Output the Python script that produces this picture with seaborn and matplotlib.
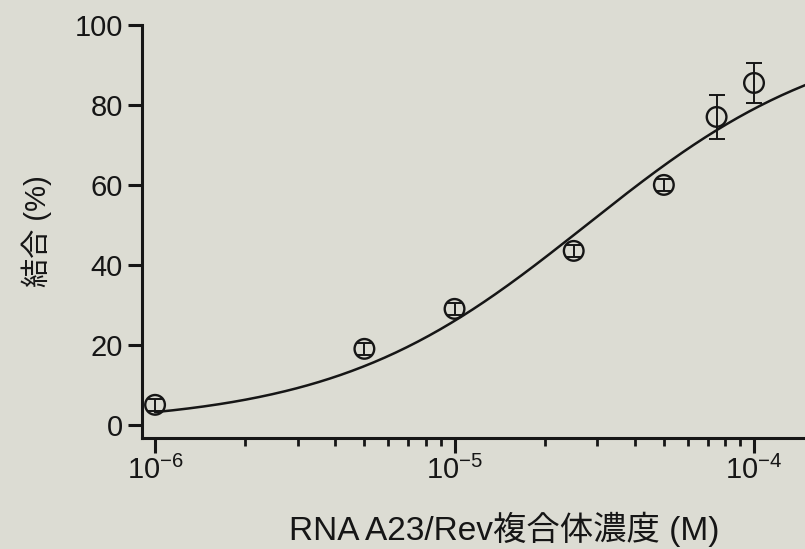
import numpy as np
import pandas as pd
import matplotlib
matplotlib.use("Agg")
import matplotlib.pyplot as plt
import seaborn as sns
from matplotlib.ticker import LogLocator, FixedLocator

# Measured binding data
concentration = [1e-6, 5e-6, 1e-5, 2.5e-5, 5e-5, 7.5e-5, 1e-4]   # M
binding = [5.0, 19.0, 29.0, 43.5, 60.0, 77.0, 85.5]               # %
binding_err = [1.5, 1.5, 1.5, 1.5, 1.5, 5.4, 5.0]

# Fitted binding isotherm parameters (Hill equation)
fit_bmax = 100.0
fit_kd = 2.76e-5
fit_n = 1.03

y_ticks = [0, 20, 40, 60, 80, 100]
x_label = "RNA A23/Rev複合体濃度 (M)"
y_label = "結合 (%)"

paper = "#dcdcd3"
ink = "#161616"

sns.set_theme(style="ticks")
plt.rcParams["font.family"] = ["Liberation Sans", "Noto Sans CJK JP", "DejaVu Sans"]
plt.rcParams["mathtext.fontset"] = "custom"
plt.rcParams["mathtext.rm"] = "Liberation Sans"
plt.rcParams["mathtext.it"] = "Liberation Sans:italic"
plt.rcParams["mathtext.bf"] = "Liberation Sans:bold"

fig = plt.figure(figsize=(8.05, 5.49), dpi=100, facecolor=paper)
ax = fig.add_axes([0.1765, 0.2025, 0.8235, 0.752])
ax.set_facecolor(paper)

df = pd.DataFrame({"conc": concentration, "binding": binding, "err": binding_err})

# Fitted curve
xs = np.logspace(np.log10(1e-6), np.log10(1.6e-4), 300)
ys = fit_bmax * xs**fit_n / (fit_kd**fit_n + xs**fit_n)
sns.lineplot(x=xs, y=ys, ax=ax, color=ink, linewidth=1.8, zorder=2)

# Error bars and open circle markers
ax.errorbar(df["conc"], df["binding"], yerr=df["err"], fmt="none",
            ecolor=ink, elinewidth=1.4, capsize=5.5, capthick=1.4, zorder=3)
sns.scatterplot(data=df, x="conc", y="binding", ax=ax, s=200,
                facecolors="none", edgecolor=ink, linewidth=1.7, zorder=4)

ax.set_xscale("log")
ax.set_xlim(0.905e-6, 1.48e-4)
ax.set_ylim(-3.25, 100)
ax.yaxis.set_major_locator(FixedLocator(y_ticks))
ax.xaxis.set_major_locator(LogLocator(base=10, numticks=10))
ax.xaxis.set_minor_locator(LogLocator(base=10, subs=np.arange(2, 10), numticks=10))

for side in ["top", "right"]:
    ax.spines[side].set_visible(False)
for side in ["left", "bottom"]:
    ax.spines[side].set_color(ink)
    ax.spines[side].set_linewidth(2.2)
ax.spines["left"].set_bounds(-3.25, 100)

ax.tick_params(axis="y", which="major", direction="out", length=10, width=2.2,
               color=ink, labelcolor=ink, labelsize=21, pad=4)
ax.tick_params(axis="x", which="major", direction="out", length=11, width=2.2,
               color=ink, labelcolor=ink, labelsize=21, pad=2)
ax.tick_params(axis="x", which="minor", direction="out", length=6, width=2.0, color=ink)

ax.set_xlabel(x_label, fontsize=24, color=ink)
ax.xaxis.set_label_coords(0.546, -0.178)
ax.set_ylabel(y_label, fontsize=21, color=ink, labelpad=16)

fig.savefig("out.png", dpi=100, facecolor=paper)
